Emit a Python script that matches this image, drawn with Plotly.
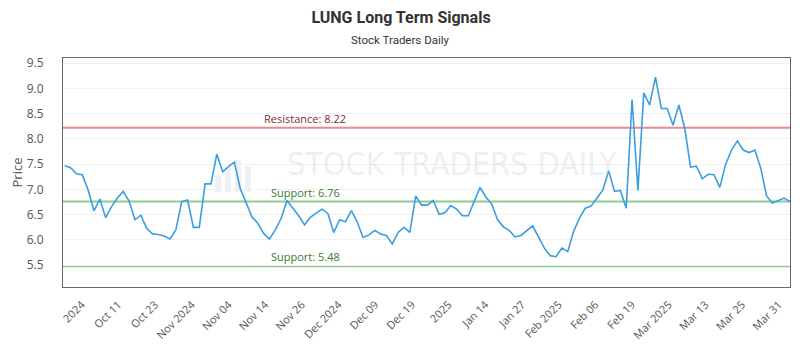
import numpy as np
import plotly.graph_objects as go

# ---- data ----
prices = [
    7.47, 7.43, 7.31, 7.29, 6.99, 6.58, 6.81, 6.44, 6.66, 6.83,
    6.96, 6.77, 6.40, 6.49, 6.23, 6.12, 6.11, 6.08, 6.02, 6.20,
    6.76, 6.79, 6.25, 6.25, 7.11, 7.11, 7.70, 7.35, 7.45, 7.54,
    7.02, 6.73, 6.46, 6.33, 6.13, 6.02, 6.20, 6.43, 6.78, 6.63,
    6.48, 6.30, 6.45, 6.53, 6.61, 6.52, 6.15, 6.40, 6.36, 6.58,
    6.36, 6.05, 6.10, 6.19, 6.12, 6.09, 5.92, 6.15, 6.25, 6.15,
    6.87, 6.69, 6.69, 6.78, 6.51, 6.54, 6.68, 6.61, 6.48, 6.48,
    6.76, 7.04, 6.85, 6.71, 6.40, 6.26, 6.19, 6.06, 6.09, 6.18,
    6.28, 6.06, 5.84, 5.69, 5.67, 5.84, 5.77, 6.17, 6.43, 6.63,
    6.67, 6.83, 6.99, 7.37, 6.96, 6.98, 6.63, 8.78, 6.98, 8.91,
    8.67, 9.22, 8.60, 8.60, 8.27, 8.67, 8.21, 7.44, 7.46, 7.21,
    7.30, 7.29, 7.04, 7.50, 7.78, 7.96, 7.78, 7.73, 7.78, 7.42,
    6.87, 6.73, 6.78, 6.83, 6.76,
]
tick_labels = [
    "2024", "Oct 11", "Oct 23", "Nov 2024", "Nov 04", "Nov 14", "Nov 26",
    "Dec 2024", "Dec 09", "Dec 19", "2025", "Jan 14", "Jan 27", "Feb 2025",
    "Feb 06", "Feb 19", "Mar 2025", "Mar 13", "Mar 25", "Mar 31",
]
resistance = 8.22
supports = [6.76, 5.48]
y_ticks = [5.5, 6.0, 6.5, 7.0, 7.5, 8.0, 8.5, 9.0, 9.5]

idx = list(range(len(prices)))
n = len(prices)
tick_pos = np.linspace(2.9, n - 2.9, len(tick_labels))

# the page body adds an 8px offset; figure is sized so the plot lands where the reference has it
FW, FH = 792, 342
ML, MR, MT, MB = 55, 10, 50, 63
PW, PH = FW - ML - MR, FH - MT - MB  # 727 x 229
PX0, PY0 = 63, 58  # plot top-left on the page


def px(xp):  # page x -> paper x
    return (xp - PX0) / PW


def py(yp):  # page y -> paper y
    return (PY0 + PH - yp) / PH


fig = go.Figure()
fig.add_trace(go.Scatter(
    x=idx, y=prices, mode="lines",
    line=dict(color="#3a9ee0", width=1.6),
    hoverinfo="skip", showlegend=False,
))

# level lines
fig.add_hline(y=resistance, line=dict(color="rgba(225,110,110,0.8)", width=2), layer="below")
for s in supports:
    fig.add_hline(y=s, line=dict(color="rgba(120,195,120,0.85)", width=2), layer="below")

ann = []
ann.append(dict(text=f"Resistance: {resistance:.2f}", xref="paper", yref="y", x=px(262), y=resistance,
                xanchor="left", yanchor="bottom", showarrow=False,
                font=dict(family="Open Sans", size=11, color="#8b2a2a")))
for s in supports:
    ann.append(dict(text=f"Support: {s:.2f}", xref="paper", yref="y", x=px(269), y=s,
                    xanchor="left", yanchor="bottom", showarrow=False,
                    font=dict(family="Open Sans", size=11, color="#3a7a2a")))
ann.append(dict(text="Stock Traders Daily", xref="paper", yref="paper", x=px(400),
                y=py(40), xanchor="center", yanchor="middle", showarrow=False,
                font=dict(family="Roboto", size=11.5, color="#333")))
# watermark
ann.append(dict(text="STOCK TRADERS DAILY", xref="paper", yref="paper", x=px(452), y=py(164),
                xanchor="center", yanchor="middle", showarrow=False,
                font=dict(family="Liberation Sans Narrow, DejaVu Sans Condensed, Roboto", size=32,
                          color="rgba(190,200,215,0.28)")))

shapes = []
# offset axis lines
shapes.append(dict(type="line", xref="paper", yref="paper", x0=0, x1=1, y0=py(296), y1=py(296),
                   line=dict(color="#cccccc", width=1)))
shapes.append(dict(type="line", xref="paper", yref="paper", x0=px(53), x1=px(53), y0=py(278), y1=1,
                   line=dict(color="#cccccc", width=1)))
# watermark logo
cx, cy, r = 232, 170, 38
shapes.append(dict(type="circle", xref="paper", yref="paper",
                   x0=px(cx - r), x1=px(cx + r), y0=py(cy + r), y1=py(cy - r),
                   line=dict(color="rgba(200,210,222,0.4)", width=7),
                   fillcolor="rgba(215,222,232,0.2)", layer="below"))
for i, h in enumerate([16, 24, 32, 26]):
    bx = 215 + i * 10
    shapes.append(dict(type="rect", xref="paper", yref="paper",
                       x0=px(bx), x1=px(bx + 6), y0=py(cy + 22), y1=py(cy + 22 - h),
                       line=dict(width=0), fillcolor="rgba(200,210,222,0.32)", layer="below"))

fig.update_layout(
    width=FW, height=FH,
    margin=dict(l=ML, r=MR, t=MT, b=MB),
    paper_bgcolor="white", plot_bgcolor="white",
    title=dict(text="<b>LUNG Long Term Signals</b>", x=393 / FW, xanchor="center",
               y=1 - 9 / FH, yanchor="middle", yref="container", automargin=False,
               font=dict(family="Roboto", size=16, color="#333")),
    annotations=ann, shapes=shapes,
    xaxis=dict(range=[-0.3, n - 1], tickmode="array", tickvals=tick_pos, ticktext=tick_labels,
               tickangle=-45, showgrid=False, zeroline=False, automargin=False,
               showline=True, mirror=True, linecolor="#666", linewidth=1,
               ticks="outside", ticklen=6, tickcolor="rgba(0,0,0,0)",
               tickfont=dict(family="Open Sans", size=11, color="#555")),
    yaxis=dict(range=[5.07, 9.6], tickmode="array", tickvals=y_ticks,
               ticktext=[f"{v:.1f}" for v in y_ticks], automargin=False,
               showgrid=True, gridcolor="#f0f0f0", zeroline=False,
               showline=True, mirror=True, linecolor="#666", linewidth=1,
               ticks="outside", ticklen=16, tickcolor="rgba(0,0,0,0)",
               tickfont=dict(family="Open Sans", size=12, color="#555"),
               title=dict(text="Price", standoff=2, font=dict(family="Open Sans", size=13, color="#555"))),
)

fig.write_html("out.html")
